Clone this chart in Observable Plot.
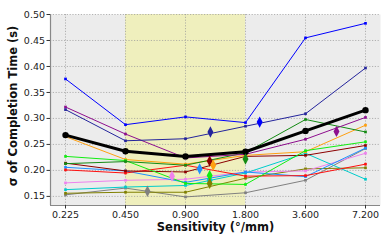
<!DOCTYPE html>
<html><head><meta charset="utf-8">
<script src="https://cdn.jsdelivr.net/npm/d3@7"></script>
<script src="https://cdn.jsdelivr.net/npm/@observablehq/plot@0.6"></script>
<style>body{margin:0;background:#fff}</style>
</head><body><div id="chart"></div>
<script>
// ---- data ----
const sensitivities = [0.225, 0.45, 0.9, 1.8, 3.6, 7.2];
const xTickLabels = ["0.225", "0.450", "0.900", "1.800", "3.600", "7.200"];
const yTicks = [0.15, 0.20, 0.25, 0.30, 0.35, 0.40, 0.45, 0.50];
const bandRange = [0.45, 1.8];

const blueVals       = [0.376, 0.288, 0.303, 0.292, 0.455, 0.483];
const navyVals       = [0.317, 0.257, 0.261, 0.285, 0.309, 0.397];
const purpleVals     = [0.322, 0.270, 0.224, 0.231, 0.260, 0.302];
const darkgreenVals  = [0.213, 0.217, 0.210, 0.234, 0.298, 0.274];
const limeVals       = [0.227, 0.219, 0.175, 0.173, 0.238, 0.255];
const orangeVals     = [0.265, 0.221, 0.212, 0.229, 0.236, 0.287];
const darkredVals    = [0.214, 0.199, 0.197, 0.227, 0.229, 0.248];
const redVals        = [0.201, 0.195, 0.210, 0.189, 0.190, 0.212];
const dodgerVals     = [0.206, 0.199, 0.177, 0.197, 0.188, 0.243];
const cyanVals       = [0.163, 0.168, 0.171, 0.195, 0.233, 0.183];
const violetVals     = [0.176, 0.181, 0.183, 0.197, 0.199, 0.233];
const oliveVals      = [0.156, 0.158, 0.158, 0.185, 0.203, 0.205];
const grayVals       = [0.153, 0.166, 0.149, 0.157, 0.181, 0.242];
const meanVals       = [0.268, 0.237, 0.227, 0.236, 0.276, 0.316];

// optimum markers (diamonds): series, sensitivity, sigma
const optNames = ["gray", "violet", "dodger", "navy", "darkred", "orange", "cyan", "lime", "olive", "darkgreen", "blue", "purple"];
const optX     = [0.58, 0.77, 1.06, 1.20, 1.19, 1.24, 1.19, 1.19, 1.19, 1.80, 2.12, 5.15];
const optY     = [0.160, 0.189, 0.203, 0.274, 0.218, 0.210, 0.181, 0.190, 0.175, 0.222, 0.293, 0.275];

// ---- styles ----
const colors = {
  blue: "#0000ff", navy: "#24249c", purple: "#8e0e8e", darkgreen: "#138a13",
  lime: "#11ee11", orange: "#ffa010", darkred: "#8b0000", red: "#ff1010",
  dodger: "#1e90ff", cyan: "#00cccc", violet: "#ee82ee", olive: "#808000", gray: "#808080"
};
const series = [
  ["gray", grayVals], ["olive", oliveVals], ["violet", violetVals], ["cyan", cyanVals],
  ["dodger", dodgerVals], ["red", redVals], ["darkred", darkredVals], ["orange", orangeVals],
  ["lime", limeVals], ["darkgreen", darkgreenVals], ["purple", purpleVals],
  ["navy", navyVals], ["blue", blueVals]
];

const thinDiamond = {
  draw(ctx, size) {
    const s = Math.sqrt(size);
    const h = s * 0.8, w = s * 0.42;
    ctx.moveTo(0, -h); ctx.lineTo(w, 0); ctx.lineTo(0, h); ctx.lineTo(-w, 0); ctx.closePath();
  }
};

const xDomain = [0.225 / Math.pow(2, 0.25), 7.2 * Math.pow(2, 0.25)];
const yDomain = [0.1325, 0.50];

const marks = [
  Plot.frame({fill: "#ececec", stroke: null}),
  Plot.rect([{x1: bandRange[0], x2: bandRange[1]}], {x1: "x1", x2: "x2", fill: "#efefbd"}),
  Plot.gridX({ticks: sensitivities, stroke: "#999", strokeOpacity: 0.8, strokeWidth: 0.9, strokeDasharray: "1.2,1.6"}),
  Plot.gridY({ticks: yTicks, stroke: "#999", strokeOpacity: 0.8, strokeWidth: 0.9, strokeDasharray: "1.2,1.6"}),
  Plot.ruleX([xDomain[0]], {stroke: "#888", strokeWidth: 1.2}),
  Plot.ruleY([yDomain[0]], {stroke: "#888", strokeWidth: 1.2})
];

for (const [name, vals] of series) {
  const rows = sensitivities.map((s, i) => ({x: s, y: vals[i]}));
  marks.push(Plot.line(rows, {x: "x", y: "y", stroke: colors[name], strokeWidth: 1}));
  marks.push(Plot.dot(rows, {x: "x", y: "y", fill: colors[name], symbol: "square", r: 1.5}));
}
const meanRows = sensitivities.map((s, i) => ({x: s, y: meanVals[i]}));
marks.push(Plot.line(meanRows, {x: "x", y: "y", stroke: "#000", strokeWidth: 3}));
marks.push(Plot.dot(meanRows, {x: "x", y: "y", fill: "#000", r: 3.2}));

const optRows = optNames.map((n, i) => ({x: optX[i], y: optY[i], c: colors[n]}));
for (const r of optRows) {
  marks.push(Plot.dot([r], {x: "x", y: "y", fill: r.c, symbol: thinDiamond, r: 4}));
}

const xTickRows = sensitivities.map((s, i) => ({x: s, label: xTickLabels[i]}));
marks.push(
  Plot.axisX({ticks: sensitivities, tickFormat: () => "", tickSize: 3.5, label: null, stroke: "#333"}),
  Plot.text(xTickRows, {x: "x", text: "label", frameAnchor: "bottom", lineAnchor: "top", dy: 5.5, fontSize: 9.5, fill: "#222"}),
  Plot.axisY({ticks: yTicks, tickFormat: d => d.toFixed(2), tickSize: 3.5, tickPadding: 2, fontSize: 9.5, label: null, stroke: "#333"}),
  Plot.text(["Sensitivity (°/mm)"], {frameAnchor: "bottom", dy: 22, lineAnchor: "middle", fontWeight: "bold", fontSize: 11.5, fill: "#111"}),
  Plot.text(["σ of Completion Time (s)"], {frameAnchor: "left", textAnchor: "middle", dx: -37, dy: -4, rotate: -90, lineAnchor: "middle", fontWeight: "bold", fontSize: 11.5, fill: "#111"})
);

const chart = Plot.plot({
  width: 390, height: 244,
  marginLeft: 50, marginRight: 10, marginTop: 14, marginBottom: 39,
  style: {fontFamily: "DejaVu Sans", background: "#fff", color: "#222"},
  x: {type: "log", domain: xDomain},
  y: {domain: yDomain},
  marks
});
document.getElementById("chart").appendChild(chart);
</script>
</body></html>
